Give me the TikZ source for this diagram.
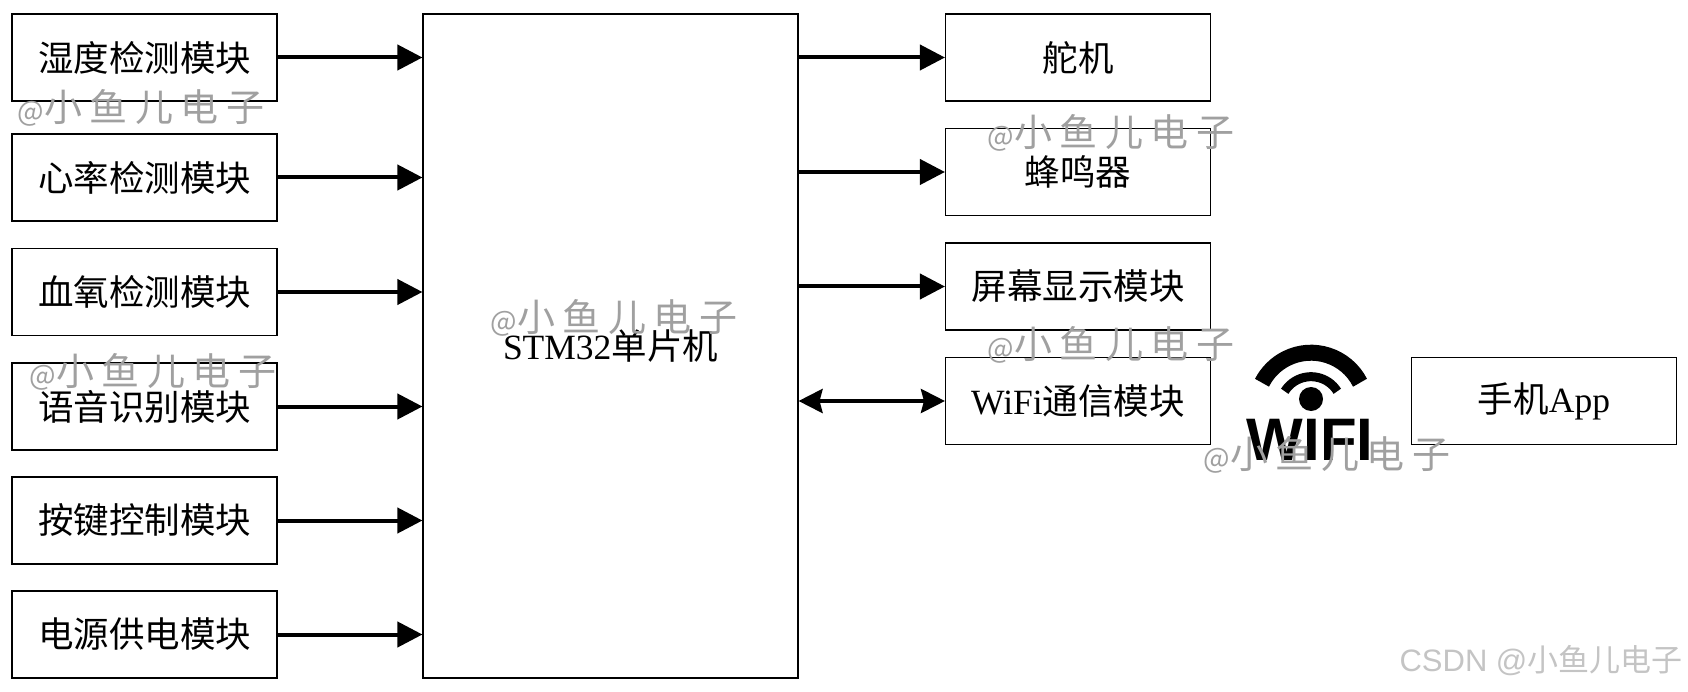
\documentclass[tikz,border=0pt]{standalone}
\usepackage{fontspec}
\setmainfont{Liberation Serif}
\newfontfamily\cjk{Noto Sans CJK SC}
\newfontfamily\markfont[LetterSpace=20]{Noto Sans CJK SC}
\newfontfamily\logofont{Liberation Sans}
\usetikzlibrary{arrows.meta}
\definecolor{markgray}{HTML}{A0A0A0}
\definecolor{csdngray}{HTML}{C4C4C4}
\newcommand{\marktext}{{\fontsize{28}{30}\selectfont @}小鱼儿电子}
\tikzset{
  modbox/.style={draw=black, line width=1.1pt, minimum width=265pt, minimum height=87pt, inner sep=0pt, font=\fontsize{35.5}{40}\selectfont},
  mcubox/.style={modbox, minimum width=375pt, minimum height=664pt},
  linkarrow/.style={line width=4pt, -{Triangle[length=25pt, width=25pt]}},
  duplexarrow/.style={line width=4pt, {Stealth[length=24pt, width=24pt, inset=3pt]}-{Stealth[length=24pt, width=24pt, inset=3pt]}},
  wmark/.style={inner sep=0pt, text=markgray, font=\fontsize{38}{40}\markfont}
}
\begin{document}
\begin{tikzpicture}[x=1pt, y=-1pt]
      \useasboundingbox (0,0) rectangle (1688,692);

      \node[modbox] (humidity) at (144.5,57.5) {\cjk 湿度检测模块};
      \node[modbox] (heartrate) at (144.5,177.5) {\cjk 心率检测模块};
      \node[modbox] (oxygen) at (144.5,292) {\cjk 血氧检测模块};
      \node[modbox] (voice) at (144.5,406.5) {\cjk 语音识别模块};
      \node[modbox] (keypad) at (144.5,520.5) {\cjk 按键控制模块};
      \node[modbox] (power) at (144.5,634.5) {\cjk 电源供电模块};

      \node[mcubox] (mcu) at (610.5,346) {STM32{\cjk 单片机}};

      \node[modbox] (servo) at (1078,57.5) {\cjk 舵机};
      \node[modbox] (buzzer) at (1078,172) {\cjk 蜂鸣器};
      \node[modbox] (screen) at (1078,286.5) {\cjk 屏幕显示模块};
      \node[modbox] (wifi) at (1078,401) {WiFi{\cjk 通信模块}};
      \node[modbox] (phone) at (1544,401) {{\cjk 手机}App};

      \draw[linkarrow] (humidity.east) -- (humidity.east -| mcu.west);
      \draw[linkarrow] (heartrate.east) -- (heartrate.east -| mcu.west);
      \draw[linkarrow] (oxygen.east) -- (oxygen.east -| mcu.west);
      \draw[linkarrow] (voice.east) -- (voice.east -| mcu.west);
      \draw[linkarrow] (keypad.east) -- (keypad.east -| mcu.west);
      \draw[linkarrow] (power.east) -- (power.east -| mcu.west);

      \draw[linkarrow] (servo.west -| mcu.east) -- (servo.west);
      \draw[linkarrow] (buzzer.west -| mcu.east) -- (buzzer.west);
      \draw[linkarrow] (screen.west -| mcu.east) -- (screen.west);
      \draw[duplexarrow] (wifi.west -| mcu.east) -- (wifi.west);

      \draw[line width=16pt] (1311,407.7) ++(-27:55) arc[start angle=-27, end angle=-153, radius=55];
      \draw[line width=9pt] (1311,407.7) ++(-32:31) arc[start angle=-32, end angle=-148, radius=31];
      \fill (1311,399) circle (12);
      \node[inner sep=0pt, font=\fontsize{60}{62}\logofont\bfseries] (wifilogo) at (1310,440) {WIFI};

      \node[wmark] (mark1) at (141,108) {\marktext};
      \node[wmark] (mark2) at (1111,133) {\marktext};
      \node[wmark] (mark3) at (614,318) {\marktext};
      \node[wmark] (mark4) at (153,372) {\marktext};
      \node[wmark] (mark5) at (1111,345) {\marktext};
      \node[wmark] (mark6) at (1327,455) {\marktext};

      \node[inner sep=0pt, text=csdngray, font=\fontsize{31}{33}\logofont] (csdn) at (1541,661) {CSDN @{\cjk 小鱼儿电子}};
    \end{tikzpicture}
\end{document}
